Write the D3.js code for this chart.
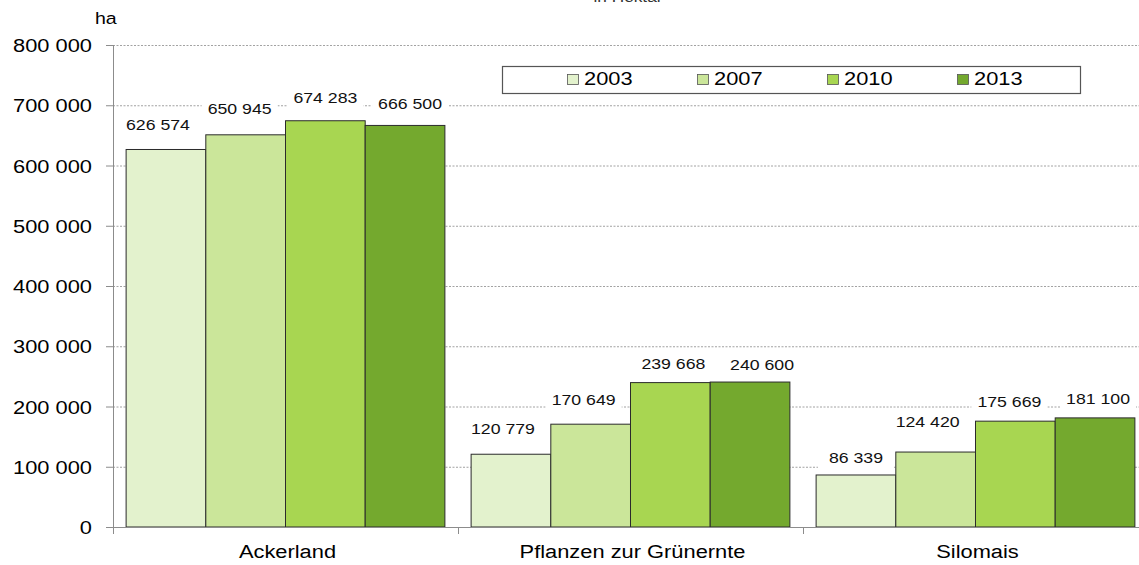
<!DOCTYPE html>
<html>
<head>
<meta charset="utf-8">
<script src="https://cdn.jsdelivr.net/npm/d3@7"></script>
<style>
body { margin: 0; background: #fff; }
svg { font-family: "Liberation Sans", Arial, sans-serif; }
</style>
</head>
<body>
<script>
// data
const categories = ["Ackerland", "Pflanzen zur Grünernte", "Silomais"];
const years = ["2003", "2007", "2010", "2013"];
const values2003 = [626574, 120779, 86339];
const values2007 = [650945, 170649, 124420];
const values2010 = [674283, 239668, 175669];
const values2013 = [666500, 240600, 181100];
const yTicks = [0, 100000, 200000, 300000, 400000, 500000, 600000, 700000, 800000];
const colors = ["#e3f2cd", "#cbe69a", "#a8d651", "#74a92e"];

// label nudges (px), per year row then category, as placed by hand in the original
const labelDx = [[-8, -8, 0], [-6, -7, -8], [0, 3, -6], [5, 12, 3]];
const labelLift = [[25, 26, 18], [27, 25, 31], [24, 20, 20], [22, 18, 20]];

const series = [values2003, values2007, values2010, values2013];

var width = 1139, height = 565;
var svg = d3.select("body").append("svg")
    .attr("width", width)
    .attr("height", height);

const plotLeft = 113, plotRight = 1148, plotTop = 45, plotBottom = 527;
const SX = 1.15; // the original is stretched sideways

var x = d3.scaleBand().domain(categories).range([plotLeft, plotRight]).paddingInner(0.076).paddingOuter(0.038);
var xYear = d3.scaleBand().domain(years).range([0, x.bandwidth()]);
var y = d3.scaleLinear().domain([0, 800000]).range([plotBottom, plotTop]);

const fmt = v => d3.format(",")(v).replace(/,/g, " ");

function place(sel, fx, fy, sx) {
    sel.attr("transform", (d, i) => "translate(" + fx(d, i) + "," + fy(d, i) + ") scale(" + (sx || SX) + ",1)");
}

// grid
svg.append("g").selectAll("line")
    .data(yTicks.filter(d => d > 0))
    .enter().append("line")
    .attr("x1", plotLeft).attr("x2", plotRight)
    .attr("y1", d => y(d) + 0.5).attr("y2", d => y(d) + 0.5)
    .attr("stroke", "#8a8a8a")
    .attr("stroke-dasharray", "2,1.5")
    .attr("stroke-width", 0.8);

// y axis
svg.append("line").attr("x1", plotLeft + 0.5).attr("x2", plotLeft + 0.5)
    .attr("y1", plotTop).attr("y2", plotBottom).attr("stroke", "#8c8c8c");
svg.append("g").selectAll("line")
    .data(yTicks).enter().append("line")
    .attr("x1", plotLeft - 7).attr("x2", plotLeft)
    .attr("y1", d => y(d) + 0.5).attr("y2", d => y(d) + 0.5)
    .attr("stroke", "#8c8c8c");
var yLab = svg.append("g").selectAll("text")
    .data(yTicks).enter().append("text")
    .attr("text-anchor", "end")
    .style("font-size", "19px")
    .attr("fill", "#000")
    .text(d => fmt(d));
place(yLab, () => plotLeft - 21, d => y(d) + 7, 1.15);

place(svg.append("text").style("font-size", "17px").text("ha"), () => 95, () => 24);

// title (cut off at top, as in the original)
place(svg.append("text").attr("text-anchor", "middle")
    .style("font-size", "15px").attr("fill", "#333").text("in Hektar"), () => 628, () => 2);

// bars
const groups = svg.append("g").selectAll("g")
    .data(categories).enter().append("g")
    .attr("transform", d => "translate(" + x(d) + ",0)");

const rows = (c, ci) => years.map((yr, i) => ({ yr: yr, i: i, ci: ci, v: series[i][ci] }));

groups.selectAll("rect")
    .data(rows)
    .enter().append("rect")
    .attr("x", d => xYear(d.yr))
    .attr("width", xYear.bandwidth())
    .attr("y", d => y(d.v))
    .attr("height", d => plotBottom - y(d.v))
    .attr("fill", d => colors[d.i])
    .attr("stroke", "#2b2b2b")
    .attr("stroke-width", 1);

// value labels with white background
const labels = groups.selectAll("g.lab")
    .data(rows)
    .enter().append("g").attr("class", "lab")
    .attr("transform", d => "translate(" + (xYear(d.yr) + xYear.bandwidth() / 2 + labelDx[d.i][d.ci]) + "," + (y(d.v) - labelLift[d.i][d.ci] + 6) + ")");
labels.append("rect")
    .attr("x", -38).attr("y", -16).attr("width", 76).attr("height", 22)
    .attr("fill", "#fff");
place(labels.append("text")
    .attr("text-anchor", "middle")
    .style("font-size", "15px")
    .attr("fill", "#111")
    .text(d => fmt(d.v)), () => 0, () => 0, 1.18);

// x axis
svg.append("line").attr("x1", plotLeft).attr("x2", plotRight)
    .attr("y1", plotBottom + 0.5).attr("y2", plotBottom + 0.5).attr("stroke", "#8c8c8c");
const bounds = categories.map(c => x(c) - x.step() * x.paddingInner() / 2);
bounds[0] = plotLeft;
svg.append("g").selectAll("line")
    .data(bounds).enter().append("line")
    .attr("x1", d => Math.round(d) + 0.5).attr("x2", d => Math.round(d) + 0.5)
    .attr("y1", plotBottom).attr("y2", plotBottom + 7)
    .attr("stroke", "#8c8c8c");
var xLab = svg.append("g").selectAll("text")
    .data(categories).enter().append("text")
    .attr("text-anchor", "middle")
    .style("font-size", "19px")
    .text(d => d);
place(xLab, d => x(d) + x.bandwidth() / 2 + 2, () => 558);

// legend
const legend = svg.append("g");
legend.append("rect").attr("x", 502.5).attr("y", 66.5).attr("width", 578).attr("height", 27)
    .attr("fill", "#fff").attr("stroke", "#555").attr("stroke-width", 1.2);
const lx = d3.scalePoint().domain(years).range([567, 957]);
const li = legend.selectAll("g").data(years).enter().append("g")
    .attr("transform", d => "translate(" + lx(d) + ",74)");
li.append("rect").attr("x", 0.5).attr("y", 0.5).attr("width", 11).attr("height", 10)
    .attr("fill", (d, i) => colors[i]).attr("stroke", "#555").attr("stroke-width", 0.8);
place(li.append("text").style("font-size", "19px").text(d => d), () => 17, () => 10.7);
</script>
</body>
</html>
